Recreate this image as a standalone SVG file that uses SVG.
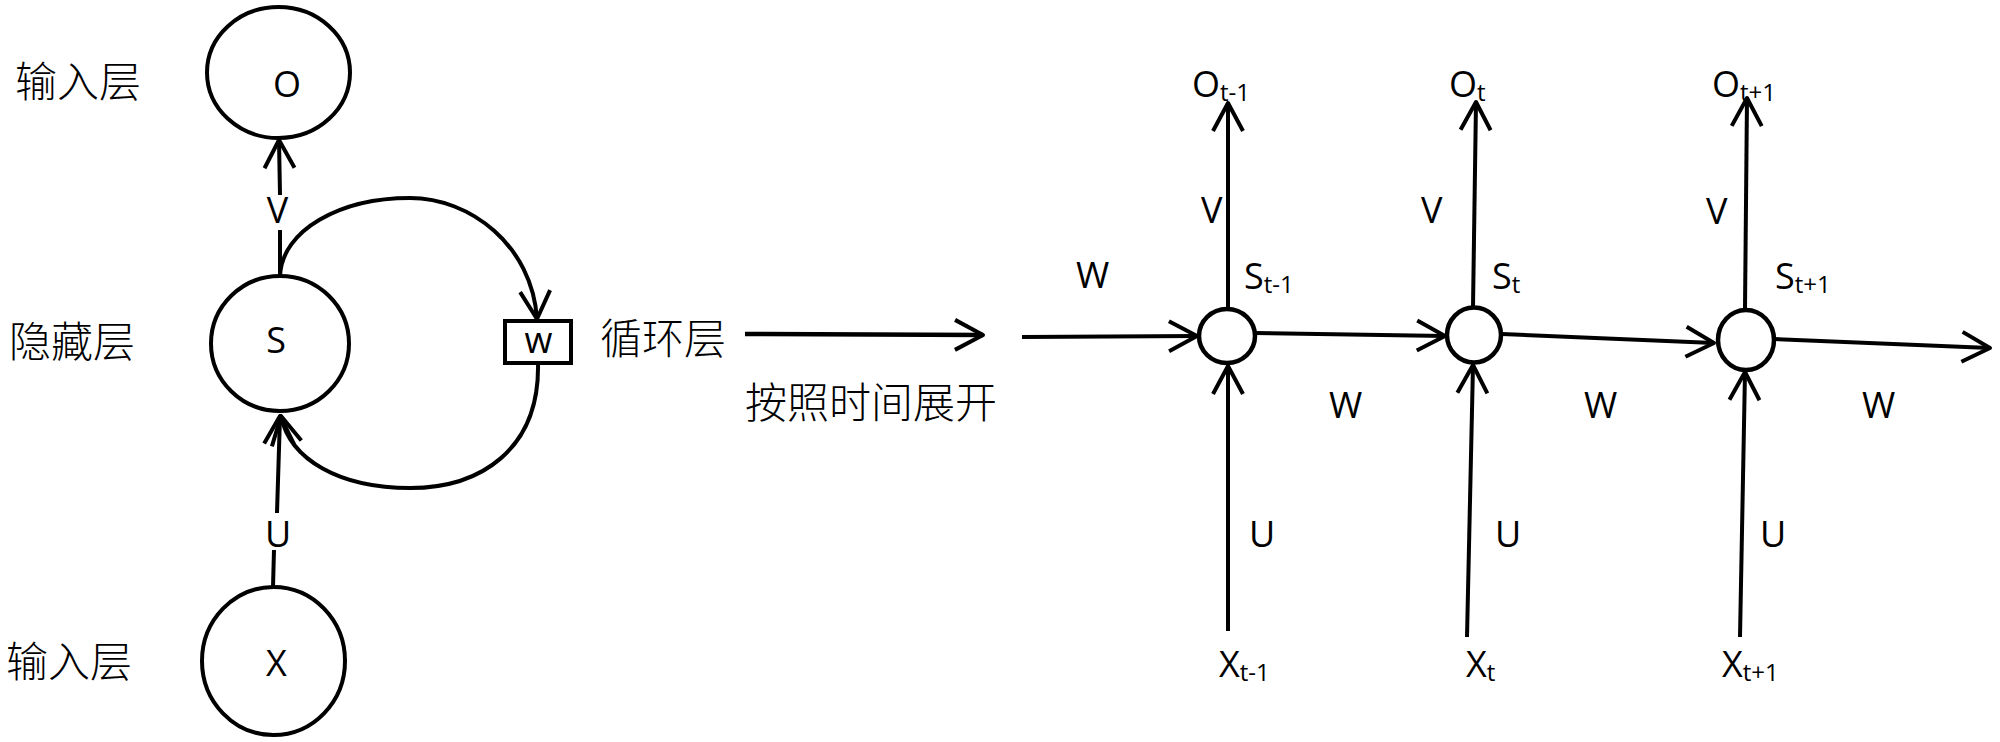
<svg xmlns="http://www.w3.org/2000/svg" width="2000" height="742" viewBox="0 0 2000 742">
<style>
.ln{fill:none;stroke:#000;stroke-width:4;stroke-linejoin:round}
.arr{marker-end:url(#ah)}
.nd{fill:#fff;stroke:#000;stroke-width:4}
.sm{fill:#fff;stroke:#000;stroke-width:4.5}
.lt{font-family:"Open Sans","DejaVu Sans",sans-serif;font-size:36px;fill:#000}
.mid{text-anchor:middle}
.sub{font-size:24px}
.cj{font-family:"Noto Sans CJK SC",sans-serif;font-size:42px;font-weight:300;fill:#000}
</style>
<defs>
<marker id="ah" markerUnits="userSpaceOnUse" markerWidth="40" markerHeight="40" viewBox="-34 -20 40 40" refX="0" refY="0" orient="auto" overflow="visible">
<path d="M-28,-15 L0,0 L-28,15" fill="none" stroke="#000" stroke-width="4" stroke-linejoin="round"/>
</marker>
</defs>
<rect width="2000" height="742" fill="#fff"/>

<g id="connectors">
<path class="ln" d="M280,276 L280,230"/>
<path class="ln arr" d="M280,195 L279,140"/>
<path class="ln arr" d="M280,276 C282,230 340,198 410,198 C470,198 532,245 537,319"/>
<path class="ln arr" d="M538,363 C540,450 480,488 410,488 C340,488 290,460 281,416"/>
<path class="ln" d="M273,587 L274,550"/>
<path class="ln arr" d="M277,513 L280,416"/>
<path class="ln arr" style="stroke-width:4.5" d="M745,334 L983,335"/>
<path class="ln arr" d="M1022,337 L1197,336"/>
<path class="ln arr" d="M1255,333 L1445,336"/>
<path class="ln arr" d="M1502,334 L1714,343"/>
<path class="ln arr" d="M1774,339 L1990,348"/>
<path class="ln arr" d="M1228,309 L1228,103"/>
<path class="ln arr" d="M1473,307 L1476,102"/>
<path class="ln arr" d="M1745,309 L1747,98"/>
<path class="ln arr" d="M1228,631 L1228,366"/>
<path class="ln arr" d="M1467,637 L1473,365"/>
<path class="ln arr" d="M1740,637 L1745,372"/>
</g>

<g id="node-O">
<ellipse class="nd" cx="278.5" cy="72.5" rx="71.5" ry="65.5"/>
<text class="lt mid" x="287" y="97">O</text>
</g>
<g id="node-S">
<ellipse class="nd" cx="280" cy="343.5" rx="69" ry="67.5"/>
<text class="lt mid" x="276" y="353">S</text>
</g>
<g id="node-W">
<rect class="nd" x="505" y="321" width="66" height="42"/>
<text class="lt mid" x="538.5" y="353">w</text>
</g>
<g id="node-X">
<ellipse class="nd" cx="273.5" cy="661" rx="71.5" ry="74"/>
<text class="lt mid" x="276.5" y="676">X</text>
</g>

<g id="left-labels">
<text class="cj" x="15" y="97">输入层</text>
<text class="cj" x="9" y="357">隐藏层</text>
<text class="cj" x="6" y="677">输入层</text>
<text class="lt mid" x="277.5" y="223">V</text>
<text class="lt mid" x="278" y="547">U</text>
<text class="cj" x="600" y="354">循环层</text>
<text class="cj" x="745" y="418">按照时间展开</text>
</g>

<g id="node-s1">
<ellipse class="sm" cx="1227" cy="336" rx="28" ry="27"/>
</g>
<g id="node-s2">
<ellipse class="sm" cx="1474" cy="335" rx="27" ry="27.5"/>
</g>
<g id="node-s3">
<ellipse class="sm" cx="1746" cy="340" rx="28" ry="30"/>
</g>

<g id="right-labels">
<text class="lt" x="1076" y="288">W</text>
<text class="lt" x="1329" y="418">W</text>
<text class="lt" x="1584" y="418">W</text>
<text class="lt" x="1862" y="418">W</text>
<text class="lt" x="1201" y="223">V</text>
<text class="lt" x="1421" y="223">V</text>
<text class="lt" x="1706" y="224">V</text>
<text class="lt" x="1249" y="547">U</text>
<text class="lt" x="1495" y="547">U</text>
<text class="lt" x="1760" y="547">U</text>
<text class="lt" x="1192" y="97">O<tspan class="sub" dy="4">t-1</tspan></text>
<text class="lt" x="1449" y="97">O<tspan class="sub" dy="4">t</tspan></text>
<text class="lt" x="1712" y="97">O<tspan class="sub" dy="4">t+1</tspan></text>
<text class="lt" x="1244" y="289">S<tspan class="sub" dy="4">t-1</tspan></text>
<text class="lt" x="1492" y="289">S<tspan class="sub" dy="4">t</tspan></text>
<text class="lt" x="1775" y="289">S<tspan class="sub" dy="4">t+1</tspan></text>
<text class="lt" x="1219" y="677">X<tspan class="sub" dy="4">t-1</tspan></text>
<text class="lt" x="1466" y="677">X<tspan class="sub" dy="4">t</tspan></text>
<text class="lt" x="1722" y="677">X<tspan class="sub" dy="4">t+1</tspan></text>
</g>
</svg>
